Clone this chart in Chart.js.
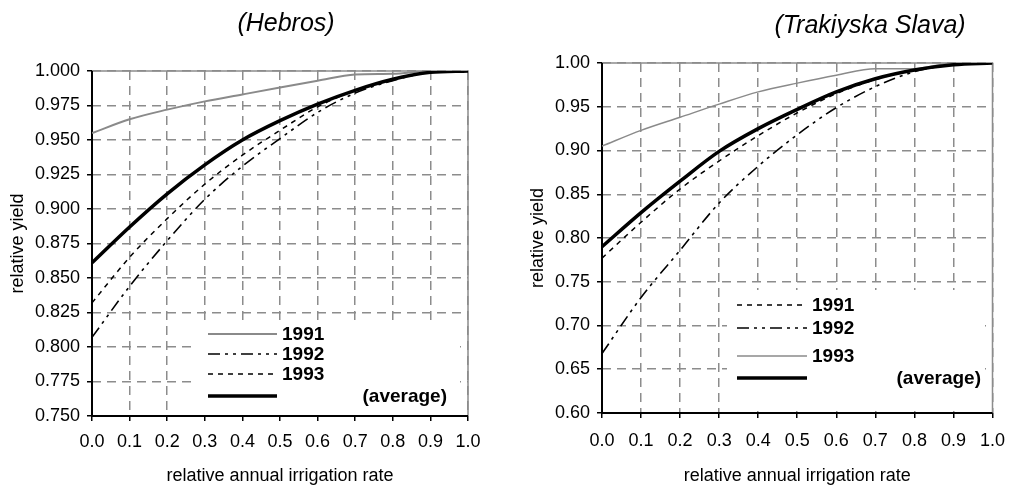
<!DOCTYPE html>
<html>
<head>
<meta charset="utf-8">
<script src="https://cdn.jsdelivr.net/npm/chart.js@4.4.1/dist/chart.umd.min.js"></script>
<style>
  html, body { margin: 0; padding: 0; background: #fff; }
  #wrap { position: relative; width: 1017px; height: 487px; }
  .panel { position: absolute; top: 0; height: 487px; }
</style>
</head>
<body>
<div id="wrap">
  <div class="panel" style="left:0;width:500px"><canvas id="hebros" width="500" height="487"></canvas></div>
  <div class="panel" style="left:500px;width:517px"><canvas id="slava" width="517" height="487"></canvas></div>
</div>
<script>
// relative annual irrigation rate (x)
const rate = [0.0, 0.1, 0.2, 0.3, 0.4, 0.5, 0.6, 0.7, 0.8, 0.9, 1.0];

// (Hebros) relative yield
const hebros1991 = [0.955, 0.965, 0.972, 0.978, 0.983, 0.988, 0.993, 0.9975, 0.998, 1.0, 1.0];
const hebros1992 = [0.807, 0.844, 0.877, 0.907, 0.931, 0.951, 0.970, 0.984, 0.993, 0.999, 1.0];
const hebros1993 = [0.832, 0.865, 0.893, 0.918, 0.939, 0.957, 0.974, 0.986, 0.994, 0.999, 1.0];
const hebrosAvg  = [0.861, 0.887, 0.911, 0.932, 0.950, 0.964, 0.976, 0.986, 0.994, 0.999, 1.0];

// (Trakiyska Slava) relative yield
const slava1991 = [0.777, 0.818, 0.856, 0.888, 0.917, 0.943, 0.965, 0.981, 0.992, 0.998, 1.0];
const slava1992 = [0.668, 0.732, 0.786, 0.840, 0.882, 0.918, 0.949, 0.973, 0.990, 0.998, 1.0];
const slava1993 = [0.905, 0.923, 0.938, 0.953, 0.967, 0.977, 0.986, 0.9935, 0.9935, 1.0, 1.0];
const slavaAvg  = [0.790, 0.829, 0.865, 0.899, 0.925, 0.947, 0.967, 0.982, 0.992, 0.998, 1.0];

const hebrosTicks = { min: 0.75, max: 1.0, step: 0.025, digits: 3 };
const slavaTicks  = { min: 0.60, max: 1.0, step: 0.05, digits: 2 };

const FONT = "'Liberation Sans', Arial, sans-serif";
const GRID = '#8c8c8c';

function pts(ys) {
  return rate.map((x, i) => ({ x: x, y: ys[i] }));
}

// styles for the four kinds of line
const solidGray = { borderColor: '#8a8a8a', borderWidth: 2, borderDash: [] };
const thinGray  = { borderColor: '#8a8a8a', borderWidth: 1.5, borderDash: [] };
const dashDot   = { borderColor: '#000', borderWidth: 1.6, borderDash: [12, 5, 3, 5, 3, 5] };
const dotted    = { borderColor: '#000', borderWidth: 1.5, borderDash: [5, 5] };
const thick     = { borderColor: '#000', borderWidth: 3.5, borderDash: [] };

function series(label, ys, style, order) {
  return Object.assign({
    label: label,
    data: pts(ys),
    pointRadius: 0,
    fill: false,
    cubicInterpolationMode: 'monotone',
    order: order
  }, style);
}

// white legend box, plot frame, legend lines + labels, panel title
const frameAndKey = {
  id: 'frameAndKey',
  beforeDatasetsDraw(chart, args, o) {
    const ctx = chart.ctx, a = chart.chartArea;
    ctx.save();
    ctx.fillStyle = '#fff';
    ctx.fillRect(o.box[0], o.box[1], o.box[2], o.box[3]);
    ctx.setLineDash([]);
    ctx.strokeStyle = GRID;
    ctx.lineWidth = 1.5;
    ctx.beginPath();
    ctx.moveTo(a.left, a.top);
    ctx.lineTo(a.right, a.top);
    ctx.lineTo(a.right, a.bottom);
    ctx.stroke();
    ctx.strokeStyle = '#000';
    ctx.lineWidth = 2;
    ctx.beginPath();
    ctx.moveTo(a.left, a.top);
    ctx.lineTo(a.left, a.bottom);
    ctx.lineTo(a.right, a.bottom);
    ctx.stroke();
    ctx.restore();
  },
  afterDatasetsDraw(chart, args, o) {
    const ctx = chart.ctx;
    ctx.save();
    ctx.font = 'bold 19px ' + FONT;
    ctx.textBaseline = 'middle';
    ctx.fillStyle = '#000';
    o.rows.forEach((y, i) => {
      const ds = chart.data.datasets[o.order[i]];
      ctx.strokeStyle = ds.borderColor;
      ctx.lineWidth = ds.borderWidth;
      ctx.setLineDash(ds.borderDash || []);
      ctx.beginPath();
      ctx.moveTo(o.x1, y);
      ctx.lineTo(o.x2, y);
      ctx.stroke();
      if (ds.label.charAt(0) === '(') {
        ctx.textAlign = 'right';
        ctx.fillText(ds.label, o.noteX, y + 1);
      } else {
        ctx.textAlign = 'left';
        ctx.fillText(ds.label, o.x2 + 5, y + 1);
      }
    });
    ctx.font = 'italic 25px ' + FONT;
    ctx.textAlign = 'center';
    ctx.fillText(o.title, o.titleX, o.titleY);
    ctx.restore();
  }
};

function makeChart(id, datasets, yt, pad, yWidth, xHeight, key, xPad) {
  return new Chart(document.getElementById(id), {
    type: 'line',
    data: { datasets: datasets },
    plugins: [frameAndKey],
    options: {
      responsive: false,
      animation: false,
      devicePixelRatio: 1,
      layout: { padding: pad },
      plugins: {
        legend: { display: false },
        tooltip: { enabled: false },
        frameAndKey: key
      },
      scales: {
        x: {
          type: 'linear',
          min: 0, max: 1,
          afterFit: s => { s.height = xHeight; },
          ticks: {
            stepSize: 0.1,
            padding: xPad,
            color: '#000',
            font: { family: FONT, size: 18 },
            callback: v => v.toFixed(1),
            maxRotation: 0
          },
          grid: {
            color: GRID, lineWidth: 1.5,
            tickColor: '#000', tickLength: 5, tickBorderDash: [0, 0], tickWidth: 1.5
          },
          border: { display: false, dash: [9, 6] },
          title: {
            display: true,
            text: 'relative annual irrigation rate',
            color: '#000',
            font: { family: FONT, size: 18 },
            padding: { top: 0, bottom: 0 }
          }
        },
        y: {
          type: 'linear',
          min: yt.min, max: yt.max,
          afterFit: s => { s.width = yWidth; },
          ticks: {
            stepSize: yt.step,
            padding: 7,
            color: '#000',
            font: { family: FONT, size: 18 },
            callback: v => v.toFixed(yt.digits)
          },
          grid: {
            color: GRID, lineWidth: 1.5,
            tickColor: '#000', tickLength: 5, tickBorderDash: [0, 0], tickWidth: 1.5
          },
          border: { display: false, dash: [9, 6] },
          title: {
            display: true,
            text: 'relative yield',
            color: '#000',
            font: { family: FONT, size: 18 },
            padding: { top: 2, bottom: 0 }
          }
        }
      }
    }
  });
}

makeChart('hebros', [
  series('(average)', hebrosAvg, thick, 0),
  series('1991', hebros1991, solidGray, 1),
  series('1992', hebros1992, dashDot, 1),
  series('1993', hebros1993, dotted, 1)
], hebrosTicks, { left: 5, right: 32, top: 71, bottom: 0 }, 87, 71, {
  box: [197, 323, 263, 91],
  x1: 208, x2: 277,
  rows: [334, 354, 374, 396],
  order: [1, 2, 3, 0],
  noteX: 447,
  title: '(Hebros)', titleX: 286, titleY: 24
}, 10);

makeChart('slava', [
  series('(average)', slavaAvg, thick, 0),
  series('1991', slava1991, dotted, 1),
  series('1992', slava1992, dashDot, 1),
  series('1993', slava1993, thinGray, 1)
], slavaTicks, { left: 25, right: 17, top: 63, bottom: 0 }, 77, 74, {
  box: [227, 290, 258, 121],
  x1: 237, x2: 307,
  rows: [305, 328, 356, 378],
  order: [1, 2, 3, 0],
  noteX: 481,
  title: '(Trakiyska Slava)', titleX: 370, titleY: 26
}, 12);
</script>
</body>
</html>
